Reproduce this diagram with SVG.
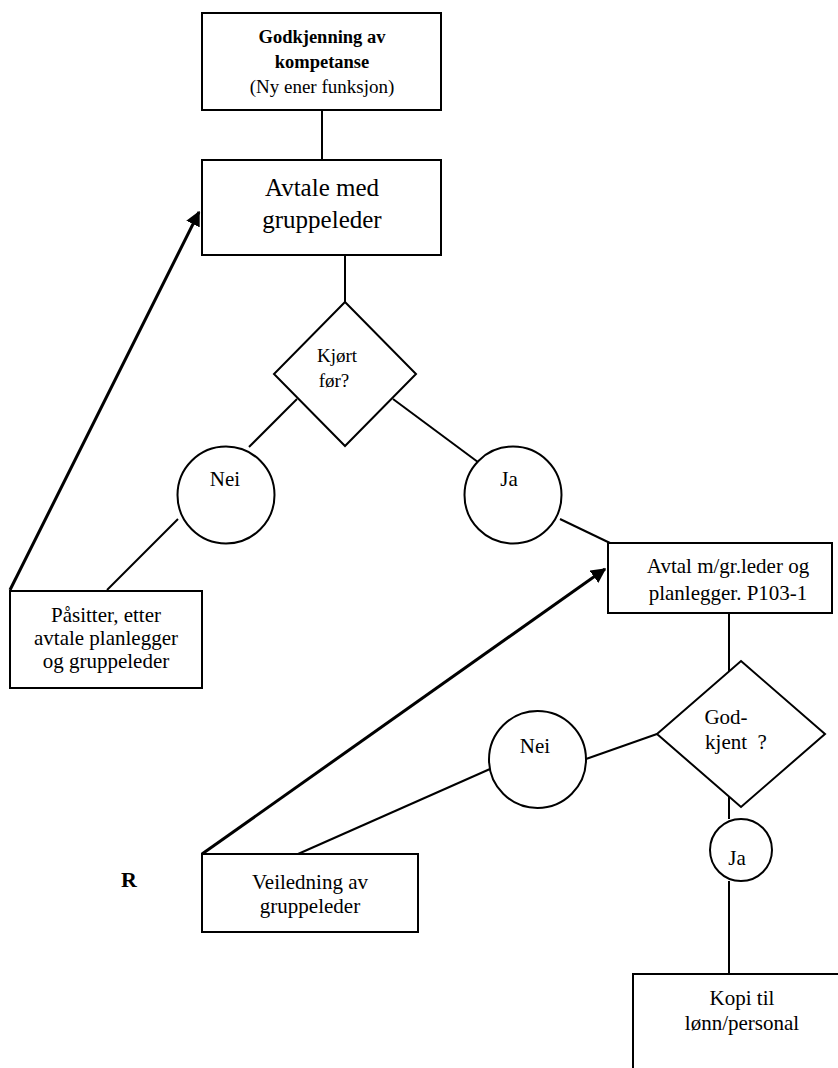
<svg xmlns="http://www.w3.org/2000/svg" width="838" height="1068" viewBox="0 0 838 1068">
<style>
.s{fill:#fff;stroke:#000;stroke-width:2}
.c{fill:none;stroke:#000;stroke-width:2}
.a{fill:none;stroke:#000;stroke-width:3}
text{font-family:"Liberation Serif","Times New Roman",serif;font-size:21px;fill:#000;text-anchor:middle}
.t{font-size:19px}
.b{font-weight:bold;font-size:18.5px}
.l{font-size:25px}
</style>
<defs>
<marker id="ah" viewBox="0 0 10 10" refX="9" refY="5" markerWidth="5" markerHeight="5" orient="auto" markerUnits="strokeWidth">
<path d="M0,0 L10,5 L0,10 z" fill="#000"/>
</marker>
</defs>
<g id="connectors">
<line class="c" x1="322" y1="110" x2="322" y2="160"/>
<line class="c" x1="345" y1="255" x2="345" y2="302"/>
<line class="c" x1="297" y1="399" x2="249" y2="447"/>
<line class="c" x1="393" y1="399" x2="490" y2="471"/>
<line class="c" x1="560" y1="519" x2="610" y2="543"/>
<line class="c" x1="178" y1="519" x2="107" y2="590"/>
<line class="a" x1="10" y1="590" x2="199" y2="212" marker-end="url(#ah)"/>
<line class="c" x1="729" y1="613" x2="729" y2="671"/>
<line class="c" x1="586" y1="759" x2="657" y2="734"/>
<line class="c" x1="490" y1="769" x2="298" y2="854"/>
<line class="a" x1="202" y1="854" x2="605" y2="569" marker-end="url(#ah)"/>
<line class="c" x1="729" y1="797" x2="729" y2="819"/>
<line class="c" x1="729" y1="881" x2="729" y2="974"/>
</g>
<g id="n1">
<rect class="s" x="202" y="13" width="239" height="97"/>
<text class="b" x="322" y="43">Godkjenning av</text>
<text class="b" x="322" y="68">kompetanse</text>
<text class="t" x="322" y="93">(Ny ener funksjon)</text>
</g>
<g id="n2">
<rect class="s" x="202" y="160" width="239" height="95"/>
<text class="l" x="322" y="196">Avtale med</text>
<text class="l" x="322" y="228">gruppeleder</text>
</g>
<g id="d1">
<polygon class="s" points="345,302 416,374 345,446 274,374"/>
<text class="t" x="337" y="362">Kjørt</text>
<text class="t" x="334" y="387">før?</text>
</g>
<g id="nei1">
<circle class="s" cx="226" cy="495" r="48.5"/>
<text x="225" y="486">Nei</text>
</g>
<g id="ja1">
<circle class="s" cx="513" cy="495" r="48.5"/>
<text x="509" y="486">Ja</text>
</g>
<g id="n3">
<rect class="s" x="10" y="591" width="192" height="97"/>
<text x="106" y="622">Påsitter, etter</text>
<text x="106" y="645">avtale planlegger</text>
<text x="106" y="668">og gruppeleder</text>
</g>
<g id="n4">
<rect class="s" x="608" y="543" width="224" height="70"/>
<text x="728" y="573">Avtal m/gr.leder og</text>
<text x="728" y="600">planlegger. P103-1</text>
</g>
<g id="d2">
<polygon class="s" points="741,661 825,734 741,807 657,734"/>
<text x="726" y="724">God-</text>
<text x="736" y="749" xml:space="preserve">kjent  ?</text>
</g>
<g id="nei2">
<circle class="s" cx="537.5" cy="759.5" r="48.5"/>
<text x="535" y="753">Nei</text>
</g>
<g id="n5">
<rect class="s" x="202" y="854" width="216" height="78"/>
<text x="310" y="889">Veiledning av</text>
<text x="310" y="913">gruppeleder</text>
</g>
<g id="ja2">
<circle class="s" cx="741" cy="850" r="31"/>
<text x="737" y="865">Ja</text>
</g>
<g id="n6">
<rect class="s" x="633" y="974" width="220" height="110"/>
<text x="742" y="1005">Kopi til</text>
<text x="742" y="1030">lønn/personal</text>
</g>
<text class="b" x="129" y="887" style="font-size:22px">R</text>
</svg>
